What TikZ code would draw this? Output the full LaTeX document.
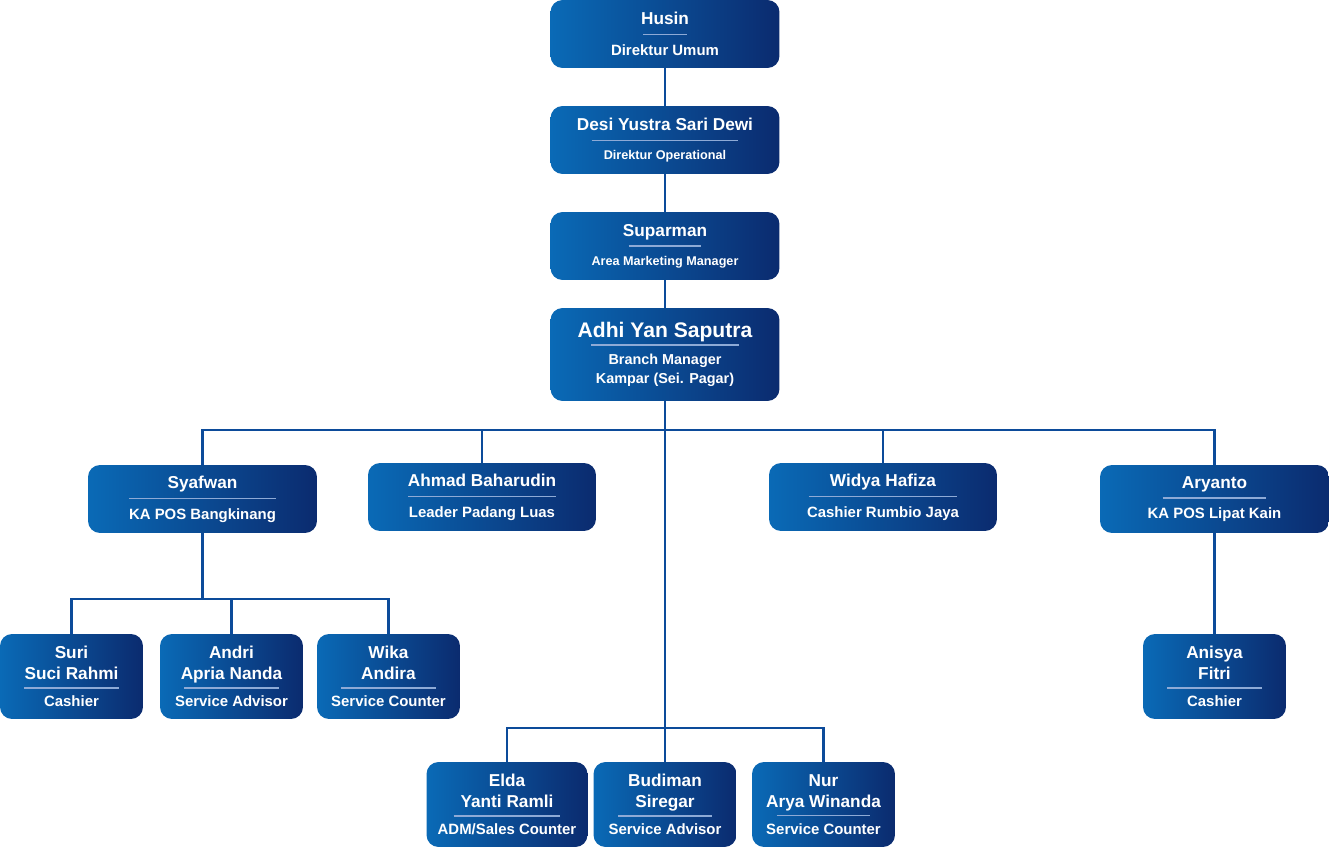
\documentclass[tikz,border=0pt]{standalone}
\usepackage{fontspec}
\setmainfont{Liberation Sans}
\usepackage{xcolor}
\usepackage{tikz}
\usetikzlibrary{positioning, calc}
\definecolor{boxleft}{HTML}{0A6AB6}
\definecolor{boxright}{HTML}{0B2B6F}
\definecolor{linkblue}{HTML}{0C4B9A}
\definecolor{divcol}{HTML}{8EAAD6}
\newlength\pxlen
\setlength\pxlen{0.5690551pt}
\newcommand{\divline}[1]{{\color{divcol}\rule[2.5pt]{#1\pxlen}{0.7pt}}}
\newcommand{\subtxt}{\fontsize{8.5}{10}\selectfont}
\newcommand{\smalltxt}{\fontsize{7.2}{8}\selectfont}
\newcommand{\bigtxt}{\fontsize{12}{14}\selectfont}
\newcommand{\bmtxt}{\fontsize{8.2}{10.8}\selectfont}

\begin{document}
\begin{tikzpicture}[
  x=0.02cm, y=0.02cm,
  orgbox/.style={rectangle, rounded corners=0.24cm, draw=none,
               left color=boxleft, right color=boxright,
               minimum width=229\pxlen, minimum height=68\pxlen,
               align=center, text=white, inner sep=0pt,
               font=\bfseries\fontsize{9.8}{11}\selectfont},
  smallbox/.style={orgbox, minimum width=143\pxlen, minimum height=85\pxlen,
               font=\bfseries\fontsize{9.8}{12}\selectfont},
  link/.style={draw=linkblue, line width=1.7pt},
]
\useasboundingbox (0,0) rectangle (1330,-848);

% top of the chart
\node[orgbox] (husin) at (665,-34)
  {Husin\\[-2.5pt]\divline{44}\\[-2pt]\subtxt Direktur Umum};
\node[orgbox] (desi) at (665,-140)
  {Desi Yustra Sari Dewi\\[-2.5pt]\divline{147}\\[-3pt]\smalltxt Direktur Operational};
\node[orgbox] (suparman) at (665,-246)
  {Suparman\\[-2.5pt]\divline{73}\\[-3pt]\smalltxt Area Marketing Manager};
\node[orgbox, minimum height=93\pxlen] (adhi) at (665,-354.5)
  {\bigtxt Adhi Yan Saputra\\[-4pt]\divline{148}\\[-3pt]
   \bmtxt Branch Manager\\\bmtxt Kampar (Sei. Pagar)};

% second level
\node[orgbox] (syafwan) at (202.5,-499)
  {Syafwan\\[-2.5pt]\divline{147}\\[-2pt]\subtxt KA POS Bangkinang};
\node[orgbox, minimum width=228\pxlen] (ahmad) at (482,-497)
  {Ahmad Baharudin\\[-2.5pt]\divline{148}\\[-2pt]\subtxt Leader Padang Luas};
\node[orgbox, minimum width=228\pxlen] (widya) at (883,-497)
  {Widya Hafiza\\[-2.5pt]\divline{149}\\[-2pt]\subtxt Cashier Rumbio Jaya};
\node[orgbox] (aryanto) at (1214.5,-499)
  {Aryanto\\[-2.5pt]\divline{104}\\[-2pt]\subtxt KA POS Lipat Kain};

% staff
\node[smallbox] (suri) at (71.5,-676.5)
  {Suri\\Suci Rahmi\\[-4.5pt]\divline{95}\\[-4.3pt]\subtxt Cashier};
\node[smallbox] (andri) at (231.5,-676.5)
  {Andri\\Apria Nanda\\[-4.5pt]\divline{95}\\[-4.3pt]\subtxt Service Advisor};
\node[smallbox] (wika) at (388.5,-676.5)
  {Wika\\Andira\\[-4.5pt]\divline{95}\\[-4.3pt]\subtxt Service Counter};
\node[smallbox] (anisya) at (1214.5,-676.5)
  {Anisya\\Fitri\\[-4.5pt]\divline{95}\\[-4.3pt]\subtxt Cashier};
\node[smallbox, minimum width=161\pxlen] (elda) at (507,-804.5)
  {Elda\\Yanti Ramli\\[-4.5pt]\divline{107}\\[-4.3pt]\subtxt ADM/Sales Counter};
\node[smallbox] (budiman) at (665,-804.5)
  {Budiman\\Siregar\\[-4.5pt]\divline{94}\\[-4.3pt]\subtxt Service Advisor};
\node[smallbox] (nur) at (823.5,-804.5)
  {Nur\\Arya Winanda\\[-4.5pt]\divline{94}\\[-4.3pt]\subtxt Service Counter};

\coordinate (hub) at (665,-430);
\coordinate (sybus) at (202.5,-599);
\coordinate (midbus) at (665,-728);

\draw[link] (husin) -- (desi);
\draw[link] (desi) -- (suparman);
\draw[link] (suparman) -- (adhi);
\draw[link] (adhi.south) -- (hub) -| (syafwan.north);
\draw[link] (hub) -| (ahmad.north);
\draw[link] (hub) -| (widya.north);
\draw[link] (hub) -| (aryanto.north);
\draw[link] (hub) -- (midbus) -- (budiman.north);
\draw[link] (midbus) -| (elda.north);
\draw[link] (midbus) -| (nur.north);
\draw[link] (syafwan.south) -- (sybus) -| (suri.north);
\draw[link] (sybus) -| (andri.north);
\draw[link] (sybus) -| (wika.north);
\draw[link] (aryanto) -- (anisya);
\end{tikzpicture}
\end{document}
